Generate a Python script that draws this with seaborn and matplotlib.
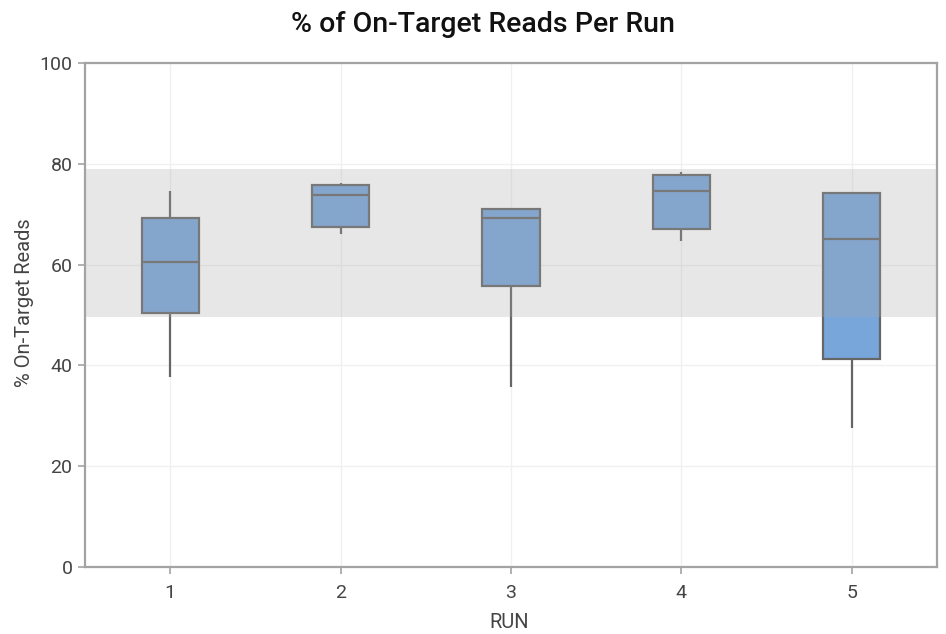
import numpy as np
import pandas as pd
import matplotlib
matplotlib.use("Agg")
import matplotlib.pyplot as plt
import seaborn as sns

# Five-number summaries per run: min, Q1, median, Q3, max
runs = ["1", "2", "3", "4", "5"]
run1 = [37.6, 50.3, 60.6, 69.3, 74.7]
run2 = [66.1, 67.5, 73.9, 75.7, 76.1]
run3 = [35.7, 55.7, 69.3, 71.0, 71.0]
run4 = [64.7, 67.1, 74.6, 77.8, 78.4]
run5 = [27.6, 41.3, 65.1, 74.2, 74.2]

# Target range shaded across the plot
target_low = 49.7
target_high = 78.9

y_ticks = [0, 20, 40, 60, 80, 100]

values = [run1, run2, run3, run4, run5]
df = pd.DataFrame({
    "RUN": np.repeat(runs, [len(v) for v in values]),
    "pct": np.concatenate(values),
})

sns.set_theme(style="white")
plt.rcParams["font.family"] = ["Roboto", "DejaVu Sans"]

fig = plt.figure(figsize=(9.46, 6.34), dpi=100)
ax = fig.add_axes([85 / 946, 1 - 567 / 634, (937 - 85) / 946, (567 - 63) / 634])

sns.boxplot(
    data=df, x="RUN", y="pct", order=runs, ax=ax,
    whis=(0, 100), width=0.335, color="#78a6da", saturation=1,
    showcaps=False, showfliers=False,
    linecolor="#666666", linewidth=1.6,
    boxprops=dict(zorder=2), whiskerprops=dict(zorder=2),
    medianprops=dict(zorder=2.1),
)

ax.axhspan(target_low, target_high, color="#a9a9a9", alpha=0.27, lw=0, zorder=3)

ax.set_ylim(0, 100)
ax.set_xlim(-0.5, 4.5)
ax.set_yticks(y_ticks)
ax.grid(True, color="#f0f0f0", lw=1.0, zorder=0)
ax.set_axisbelow(True)

for s in ax.spines.values():
    s.set_color("#a3a3a3")
    s.set_linewidth(1.6)
    s.set_visible(True)

ax.tick_params(axis="both", which="major", length=5, width=1.2, color="#a3a3a3",
               pad=4, direction="out", bottom=True, left=True)
for lab in ax.get_xticklabels() + ax.get_yticklabels():
    lab.set_fontweight("normal")
    lab.set_fontsize(14)
    lab.set_color("#444444")
ax.tick_params(axis="x", pad=7)

ax.set_xlabel("")
ax.set_ylabel("")
fig.text(509 / 946, 1 - 623 / 634, "RUN", ha="center", va="center",
         fontsize=14.5, color="#444444", fontweight="normal")
fig.text(25 / 946, 1 - 303 / 634, "% On-Target Reads", ha="center", va="center",
         rotation=90, fontsize=14.5, color="#444444", fontweight="normal")

fig.text(483 / 946, 1 - 25 / 634, "% of On-Target Reads Per Run", ha="center", va="center",
         fontsize=20.5, fontweight="medium", color="#111111")

fig.savefig("out.png", dpi=100)
